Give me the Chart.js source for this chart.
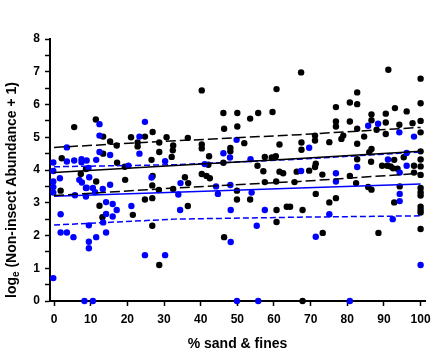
<!DOCTYPE html>
<html>
<head>
<meta charset="utf-8">
<script src="https://cdn.jsdelivr.net/npm/chart.js@4"></script>
<style>
body { margin: 0; background: #fff; }
#wrap { width: 445px; height: 354px; }
</style>
</head>
<body>
<div id="wrap"><canvas id="myChart"></canvas></div>
<script>
// points [ % sand & fines , log_e ]
const blackPts = [
  [1.8,3.37],[2.1,4.36],[5.5,5.31],[7.3,3.88],[8.7,4.03],[11.4,5.54],[11.5,3.65],[12.4,2.91],[13.2,2.56],[13.4,5.02],
  [13.4,4.5],[15.3,4.87],[17.1,4.75],[17.2,4.22],[19.3,4.1],[19.4,3.7],[21,5.0],[21.5,2.63],[22.8,4.84],[22.8,4.72],
  [24.8,5.02],[24.8,3.1],[26.6,4.31],[26.8,2.3],[26.8,3.14],[26.8,3.53],[26.9,5.16],[26.9,3.82],[28.6,3.39],[28.7,4.84],
  [28.7,4.55],[28.7,1.1],[30.7,5.0],[32.1,4.4],[32.4,4.6],[32.5,4.75],[32.5,3.42],[35.7,3.78],[36.5,4.98],[36.6,3.6],
  [36.5,2.9],[40.3,6.43],[40.3,4.78],[40.3,4.66],[40.3,3.88],[41.6,3.82],[42.1,4.16],[42.3,4.42],[42.5,3.75],[46.2,5.74],
  [46.4,5.26],[46.2,4.22],[46.4,1.95],[48.1,4.67],[48.1,4.57],[49.9,3.37],[49.9,3.1],[50,5.74],[50,5.33],[51.9,4.82],
  [53.5,5.57],[53.5,3.1],[55.5,4.13],[55.7,5.74],[57.1,3.96],[57.5,4.4],[57.5,3.63],[59.4,4.38],[59.6,5.77],[60.5,4.42],
  [60.6,3.65],[60.7,6.47],[60.7,2.78],[60.7,2.41],[61.5,4.78],[61.5,3.95],[62.5,3.9],[63.5,2.88],[64.4,2.88],[65.6,3.63],
  [66.2,3.95],[67.4,6.98],[67.5,4.84],[67.5,4.62],[67.8,2.78],[67.8,0],[69.6,3.98],[71.2,5.05],[71.2,4.9],[71.4,4.19],
  [71.2,4.09],[71.4,3.27],[73.2,3.86],[73.3,2.08],[75.1,4.85],[75.1,3.01],[76.9,5.92],[76.9,5.48],[76.9,5.33],[76.9,3.14],
  [78.4,4.95],[78.9,5.05],[80.7,6.06],[80.7,5.48],[80.7,3.82],[82.4,3.6],[82.7,6.37],[82.7,6.01],[82.7,5.26],[82.7,4.8],
  [82.7,4.33],[84.6,5.02],[85.7,3.48],[86.0,4.54],[86.5,4.25],[86.6,5.7],[86.6,5.52],[86.6,4.64],[86.6,3.4],[88,5.23],
  [88.5,2.08],[89.5,4.13],[90.5,5.72],[90.5,5.45],[90.5,5.1],[90.9,4.13],[91.2,7.06],[91.8,4.11],[92.5,4.05],[92.8,4.31],
  [92.8,3.01],[93,5.89],[93.7,4.04],[94.2,5.38],[94.3,3.5],[95.4,4.39],[96.2,5.79],[97.8,5.43],[98.2,4.13],[98.2,3.92],
  [100,6.79],[100,6.04],[100,5.5],[100,5.15],[100,4.57],[100,4.32],[100,4.11],[100,3.85],[100,3.45],[100,3.32],
  [100,3.22],[100,2.88],[100,2.78],[100,2.7],[100,2.2]
];

const bluePts = [
  [-0.2,4.23],[-0.2,3.97],[-0.2,3.65],[-0.2,3.48],[-0.2,3.31],[-0.2,0.7],[1.6,3.75],[1.8,2.65],[1.8,2.09],[3.5,4.69],
  [3.5,4.26],[3.5,2.09],[5.5,4.29],[5.7,3.23],[5.3,1.95],[7.5,4.33],[7.5,4.24],[6.9,3.7],[7.6,3.62],[8.9,4.29],
  [8.7,3.45],[8.7,3.19],[8.9,3.46],[8.3,0],[9.6,3.78],[9.4,4.06],[9.5,2.31],[9.5,1.81],[9.5,1.61],[10.6,3.45],
  [10.6,0],[11.2,3.32],[11.5,4.31],[11.5,1.95],[12.4,5.4],[12.4,5.05],[12.4,4.55],[13.3,3.42],[13.4,2.4],[14.2,3.02],
  [14.2,2.66],[14.2,2.09],[15.3,4.46],[15.3,3.55],[16,2.96],[16,2.58],[17.1,2.78],[20.3,4.13],[21.1,2.9],[23.3,5.02],
  [23.3,4.5],[24.8,5.47],[24.8,1.4],[26.6,3.77],[30.3,4.27],[30.3,1.4],[33.9,3.25],[34.5,3.6],[34.4,2.78],[41.1,4.18],
  [44.2,3.5],[44.7,3.27],[46.2,4.51],[48,4.38],[48.1,3.54],[48.2,2.78],[48.2,1.8],[49.8,4.92],[49.9,0],[53.6,4.33],
  [53.9,3.31],[55.3,2.3],[55.7,0],[57.5,2.78],[67.4,3.97],[69.6,4.68],[71.4,1.96],[75.1,2.65],[76.9,3.9],[76.9,3.65],
  [80.7,0],[82.7,4.09],[85.7,5.35],[88.4,5.41],[91.1,4.32],[92.4,2.5],[94.2,5.15],[94.3,3.92],[94.3,3.27],[94.3,3.05],
  [96.2,4.52],[96.2,4.13],[98.2,5.02],[100,1.1]
];

// fitted lines and bands, read at these x
const lineX = [0, 33, 67, 100];
const blackFit = [3.92, 4.14, 4.35, 4.57];
const blackUpper = [4.69, 4.89, 5.08, 5.3];
const blackLower = [3.22, 3.45, 3.65, 3.9];
const blueFit = [3.2, 3.32, 3.45, 3.57];
const blueUpper = [4.1, 4.16, 4.33, 4.55];
const blueLower = [2.32, 2.5, 2.56, 2.6];

const xTicks = [0, 10, 20, 30, 40, 50, 60, 70, 80, 90, 100];
const yTicks = [0, 0.5, 1, 1.5, 2, 2.5, 3, 3.5, 4, 4.5, 5, 5.5, 6, 6.5, 7, 7.5, 8];

const FONT = '"Liberation Sans", Arial, sans-serif';
const BLUE = '#0000ff';

function toXY(arr){
  let out = [];
  for(let i = 0; i < arr.length; i++){
    out.push({x: arr[i][0], y: arr[i][1]});
  }
  return out;
}

function line(ys, color, dash, ord){
  return {
    data: lineX.map((x, i) => ({x: x, y: ys[i]})),
    showLine: true,
    borderColor: color,
    borderWidth: 1.5,
    borderDash: dash,
    pointRadius: 0,
    fill: false,
    order: ord
  };
}

// y title with subscript e
const yTitle = {
  id: 'yTitle',
  afterDraw(chart){
    const c = chart.ctx;
    const p1 = 'log', p2 = 'e', p3 = ' (Non-insect Abundance + 1)';
    c.save();
    c.translate(12, 190);
    c.rotate(-Math.PI / 2);
    c.fillStyle = '#000';
    c.textBaseline = 'middle';
    c.textAlign = 'left';
    c.font = 'bold 14px ' + FONT;
    const w1 = c.measureText(p1).width;
    const w3 = c.measureText(p3).width;
    c.font = 'bold 10px ' + FONT;
    const w2 = c.measureText(p2).width;
    let x = -(w1 + w2 + w3) / 2;
    c.font = 'bold 14px ' + FONT;
    c.fillText(p1, x, 0);
    x += w1;
    c.font = 'bold 10px ' + FONT;
    c.fillText(p2, x, 4);
    x += w2;
    c.font = 'bold 14px ' + FONT;
    c.fillText(p3, x, 0);
    c.restore();
  }
};

const ctx = document.getElementById('myChart');

new Chart(ctx, {
  type: 'scatter',
  data: {
    datasets: [
      line(blackFit, '#000', [], 1),
      line(blackUpper, '#000', [10, 4], 1),
      line(blackLower, '#000', [10, 4], 1),
      line(blueFit, BLUE, [], 1),
      line(blueUpper, BLUE, [6, 3], 1),
      line(blueLower, BLUE, [6, 3], 1),
      { data: toXY(bluePts), backgroundColor: BLUE, pointRadius: 3.2, borderWidth: 0, clip: false, order: 2 },
      { data: toXY(blackPts), backgroundColor: '#000', pointRadius: 3.2, borderWidth: 0, clip: false, order: 3 }
    ]
  },
  options: {
    responsive: true,
    maintainAspectRatio: false,
    devicePixelRatio: 1,
    animation: false,
    layout: { padding: { top: 39, right: 20, bottom: 0, left: 0 } },
    plugins: { legend: { display: false }, tooltip: { enabled: false } },
    scales: {
      x: {
        type: 'linear',
        min: -1.1,
        max: 101.2,
        afterBuildTicks: s => { s.ticks = xTicks.map(v => ({value: v})); },
        afterFit: s => { s.height = 53; },
        grid: { drawOnChartArea: false, drawTicks: true, tickLength: 5, tickColor: '#000', tickWidth: 1.5 },
        border: { color: '#000', width: 2 },
        ticks: { color: '#000', font: { family: FONT, size: 12, weight: 'bold' }, padding: 6, maxRotation: 0, autoSkip: false },
        title: { display: true, text: '% sand & fines', color: '#000', font: { family: FONT, size: 14, weight: 'bold' }, padding: { top: 0, bottom: 1 } }
      },
      y: {
        min: 0,
        max: 8,
        afterBuildTicks: s => { s.ticks = yTicks.map(v => ({value: v})); },
        afterFit: s => { s.width = 50; },
        grid: { drawOnChartArea: false, drawTicks: true, tickLength: 5, tickColor: '#000', tickWidth: 1.5 },
        border: { color: '#000', width: 2 },
        ticks: {
          color: '#000',
          font: { family: FONT, size: 12, weight: 'bold' },
          padding: 5,
          autoSkip: false,
          callback: v => Number.isInteger(v) ? v : ''
        }
      }
    }
  },
  plugins: [yTitle]
});
</script>
</body>
</html>
